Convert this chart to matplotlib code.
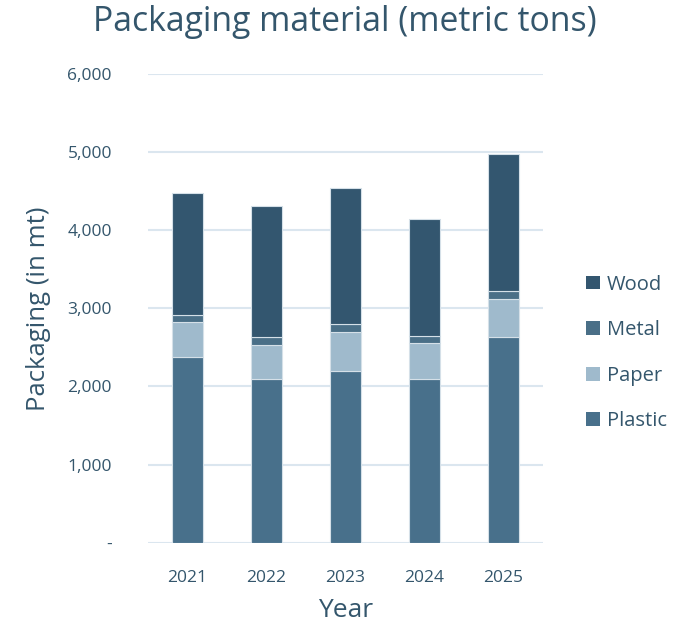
import matplotlib
matplotlib.use("Agg")
import matplotlib.pyplot as plt
from matplotlib.ticker import FuncFormatter
from matplotlib.patches import Patch
import numpy as np

years = ["2021", "2022", "2023", "2024", "2025"]
plastic = [2375, 2093, 2200, 2093, 2634]
paper = [447, 444, 494, 461, 491]
metal = [90, 102, 103, 98, 103]
wood = [1560, 1667, 1743, 1496, 1746]

series = [
    ("Plastic", plastic, "#48708b"),
    ("Paper", paper, "#9fbacc"),
    ("Metal", metal, "#4a6f87"),
    ("Wood", wood, "#33566f"),
]

text_color = "#34566c"
grid_color = "#dbe6ef"

plt.rcParams["font.family"] = ["Open Sans", "DejaVu Sans"]

fig = plt.figure(figsize=(6.97, 6.23), dpi=100)
ax = fig.add_axes([148 / 697, 1 - 542.7 / 623, 395 / 697, (542.7 - 74) / 623])

x = np.arange(len(years))
bottom = np.zeros(len(years))
for name, vals, col in series:
    ax.bar(x, vals, width=0.405, bottom=bottom, color=col,
           edgecolor="#d5e0e8", linewidth=0.8, label=name, zorder=3)
    bottom += np.array(vals)

ax.set_xlim(-0.5, len(years) - 0.5)
ax.set_ylim(0, 6000)
ax.set_yticks(np.arange(0, 6001, 1000))
ax.yaxis.set_major_formatter(FuncFormatter(lambda v, p: "-" if v == 0 else f"{int(v):,}"))
ax.set_xticks(x)
ax.set_xticklabels(years)
ax.grid(axis="y", color=grid_color, linewidth=1.5, zorder=0)
for s in ax.spines.values():
    s.set_visible(False)
ax.tick_params(axis="both", length=0, colors=text_color, labelsize=12.5)
ax.tick_params(axis="y", pad=26)
ax.tick_params(axis="x", pad=20)

ax.set_ylabel("Packaging (in mt)", fontsize=18.5, color=text_color, labelpad=12)
ax.set_xlabel("Year", fontsize=19, color=text_color, labelpad=8)
fig.text(0.495, 0.965, "Packaging material (metric tons)", ha="center", va="center",
         fontsize=24.3, color=text_color)

handles = [Patch(facecolor=c, edgecolor="none", label=n) for n, _, c in series][::-1]
fig.legend(handles=handles, loc="center left", bbox_to_anchor=(0.8407, 0.4335),
           frameon=False, fontsize=14.5, labelcolor=text_color, handlelength=0.68,
           handleheight=0.68, handletextpad=0.35, labelspacing=1.27,
           borderpad=0, borderaxespad=0)

fig.savefig("out.png", dpi=100)
